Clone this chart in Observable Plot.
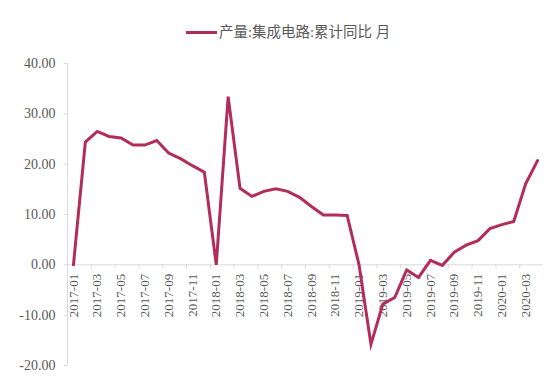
<!DOCTYPE html>
<html><head><meta charset="utf-8">
<script src="https://cdn.jsdelivr.net/npm/d3@7"></script>
<script src="https://cdn.jsdelivr.net/npm/@observablehq/plot@0.6"></script>
<style>
body{margin:0;background:#fff;}
#legend{height:48px;position:relative;font-family:"Liberation Serif","Noto Sans CJK SC",serif;font-size:14.5px;color:#595959;}
#legend .sw{position:absolute;left:186px;top:31px;width:31px;height:3px;background:#b22d5b;}
#legend .lt{position:absolute;left:219px;top:23px;line-height:18px;white-space:nowrap;}
#chart svg text{font-family:"Liberation Serif","DejaVu Serif",serif !important;}
</style></head>
<body>
<div id="legend"><span class="sw"></span><span class="lt">产量:集成电路:累计同比 月</span></div>
<div id="chart"></div>
<script>
const seriesName = "产量:集成电路:累计同比 月";
const months = [
  "2017-01","2017-02","2017-03","2017-04","2017-05","2017-06","2017-07","2017-08","2017-09","2017-10","2017-11","2017-12",
  "2018-01","2018-02","2018-03","2018-04","2018-05","2018-06","2018-07","2018-08","2018-09","2018-10","2018-11","2018-12",
  "2019-01","2019-02","2019-03","2019-04","2019-05","2019-06","2019-07","2019-08","2019-09","2019-10","2019-11","2019-12",
  "2020-01","2020-02","2020-03","2020-04"
];
const values = [
  0, 24.4, 26.5, 25.5, 25.2, 23.8, 23.8, 24.7, 22.2, 21.1, 19.7, 18.4,
  0, 33.4, 15.2, 13.6, 14.6, 15.1, 14.6, 13.4, 11.6, 9.9, 9.9, 9.8,
  0, -15.8, -7.8, -6.5, -1.0, -2.5, 0.9, -0.1, 2.5, 3.9, 4.8, 7.2,
  8.0, 8.6, 16.1, 20.7
];
const yTicks = [-20, -10, 0, 10, 20, 30, 40];

const data = months.map((m, i) => ({i, m, v: values[i]}));
const labelIdx = data.filter(d => d.i % 2 === 0);
const tickPos = d3.range(1.5, months.length - 1, 2);

const axisColor = "#d9d9d9";
const textColor = "#595959";
const serif = "'Liberation Serif', 'DejaVu Serif', serif";

const chart = Plot.plot({
  width: 550,
  height: 330,
  marginLeft: 67,
  marginRight: 7,
  marginTop: 15,
  marginBottom: 13,
  style: {fontFamily: serif, fontSize: "13px", color: textColor, background: "#fff"},
  x: {type: "linear", domain: [-0.5, months.length - 0.5], axis: null},
  y: {domain: [-20, 40], axis: null},
  marks: [
    Plot.ruleX([-0.5], {y1: -20, y2: 40, stroke: axisColor}),
    Plot.axisY({ticks: yTicks, tickFormat: d => d.toFixed(2), tickSize: 3, tickPadding: 9, stroke: axisColor, fill: textColor, fontSize: 14, label: null}),
    Plot.ruleY([0], {x1: -0.5, x2: months.length - 0.5, stroke: axisColor}),
    Plot.ruleX(tickPos, {y1: 0, y2: -0.8, stroke: axisColor}),
    Plot.text(labelIdx, {x: "i", y: () => 0, text: "m", rotate: -90, textAnchor: "end", lineAnchor: "middle", dy: 9, fill: textColor, fontSize: 13}),
    Plot.line(data, {x: "i", y: "v", stroke: "#b22d5b", strokeWidth: 3, strokeLinejoin: "miter", strokeMiterlimit: 10})
  ]
});
document.getElementById("chart").appendChild(chart);
</script>
</body></html>
